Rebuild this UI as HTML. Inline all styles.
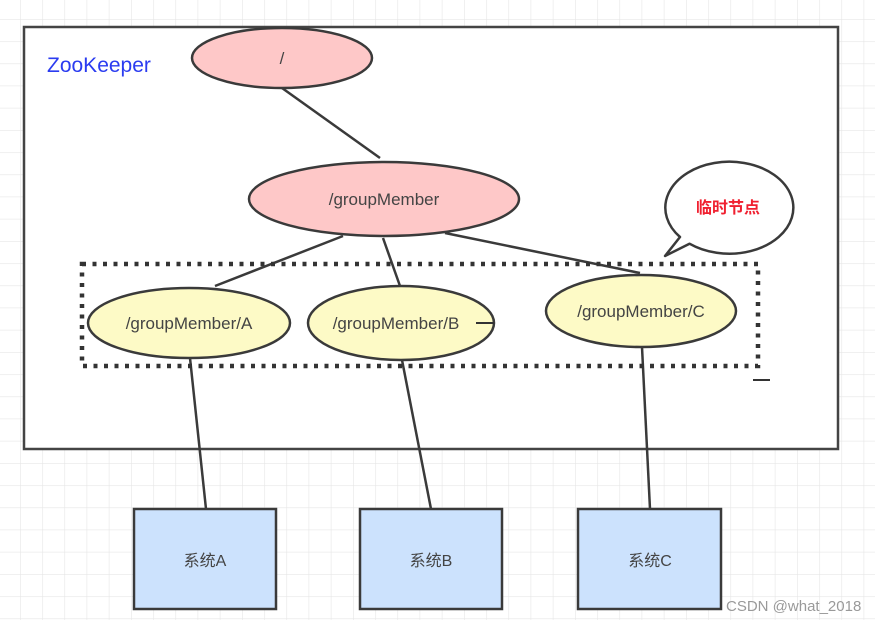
<!DOCTYPE html>
<html><head><meta charset="utf-8"><style>
html,body{margin:0;padding:0;background:#fff;}
svg{display:block;}
text{font-family:"Liberation Sans","Noto Sans CJK SC",sans-serif;}
</style></head><body>
<svg width="875" height="620" viewBox="0 0 875 620" xmlns="http://www.w3.org/2000/svg">
<defs>
<pattern id="g" x="20" y="19" width="22.2" height="22.2" patternUnits="userSpaceOnUse">
<path d="M0 0V22.2M0 0H22.2" stroke="#e6e6e6" stroke-width="1.2" fill="none"/>
</pattern>
</defs>
<rect width="875" height="620" fill="url(#g)"/>
<rect x="24" y="27" width="814" height="422" fill="#fff" stroke="#444" stroke-width="2.5"/>
<text x="47" y="72" font-size="21" fill="#2b3cf0">ZooKeeper</text>
<g stroke="#3a3a3a" stroke-width="2.5" fill="none">
<line x1="282" y1="88" x2="380" y2="158"/>
<line x1="343" y1="236" x2="215" y2="286"/>
<line x1="383" y1="238" x2="400" y2="286"/>
<line x1="445" y1="233" x2="640" y2="273"/>
<line x1="190" y1="358" x2="206" y2="509"/>
<line x1="402" y1="360" x2="431" y2="509"/>
<line x1="642" y1="347" x2="650" y2="509"/>
</g>
<rect x="82" y="264" width="676" height="102" fill="none" stroke="#333" stroke-width="4.5" stroke-dasharray="4 6.5"/>
<line x1="753" y1="380" x2="770" y2="380" stroke="#333" stroke-width="2"/>
<g stroke="#3a3a3a" stroke-width="2.5">
<ellipse cx="282" cy="58" rx="90" ry="30" fill="#fec8c8"/>
<ellipse cx="384" cy="199" rx="135" ry="37" fill="#fec8c8"/>
<ellipse cx="189" cy="323" rx="101" ry="35" fill="#fdfac6"/>
<ellipse cx="401" cy="323" rx="93" ry="37" fill="#fdfac6"/>
<ellipse cx="641" cy="311" rx="95" ry="36" fill="#fdfac6"/>
<path d="M680 237 A64 46 0 1 1 689.5 243.7 L665 256 Z" fill="#fff" stroke-linejoin="round"/>
<rect x="134" y="509" width="142" height="100" fill="#cce2fd"/>
<rect x="360" y="509" width="142" height="100" fill="#cce2fd"/>
<rect x="578" y="509" width="143" height="100" fill="#cce2fd"/>
</g>
<line x1="476" y1="323" x2="494" y2="323" stroke="#333" stroke-width="2"/>
<g fill="#444" font-size="17" text-anchor="middle">
<text x="282" y="64">/</text>
<text x="384" y="205">/groupMember</text>
<text x="189" y="329">/groupMember/A</text>
<text x="396" y="329">/groupMember/B</text>
<text x="641" y="317">/groupMember/C</text>
<text x="205" y="566" font-size="16">系统A</text>
<text x="431" y="566" font-size="16">系统B</text>
<text x="650" y="566" font-size="16">系统C</text>
</g>
<text x="728" y="213" font-size="16" font-weight="bold" fill="#f02030" text-anchor="middle">临时节点</text>
<text x="726" y="611" font-size="15" fill="#999">CSDN @what_2018</text>
</svg>
</body></html>
